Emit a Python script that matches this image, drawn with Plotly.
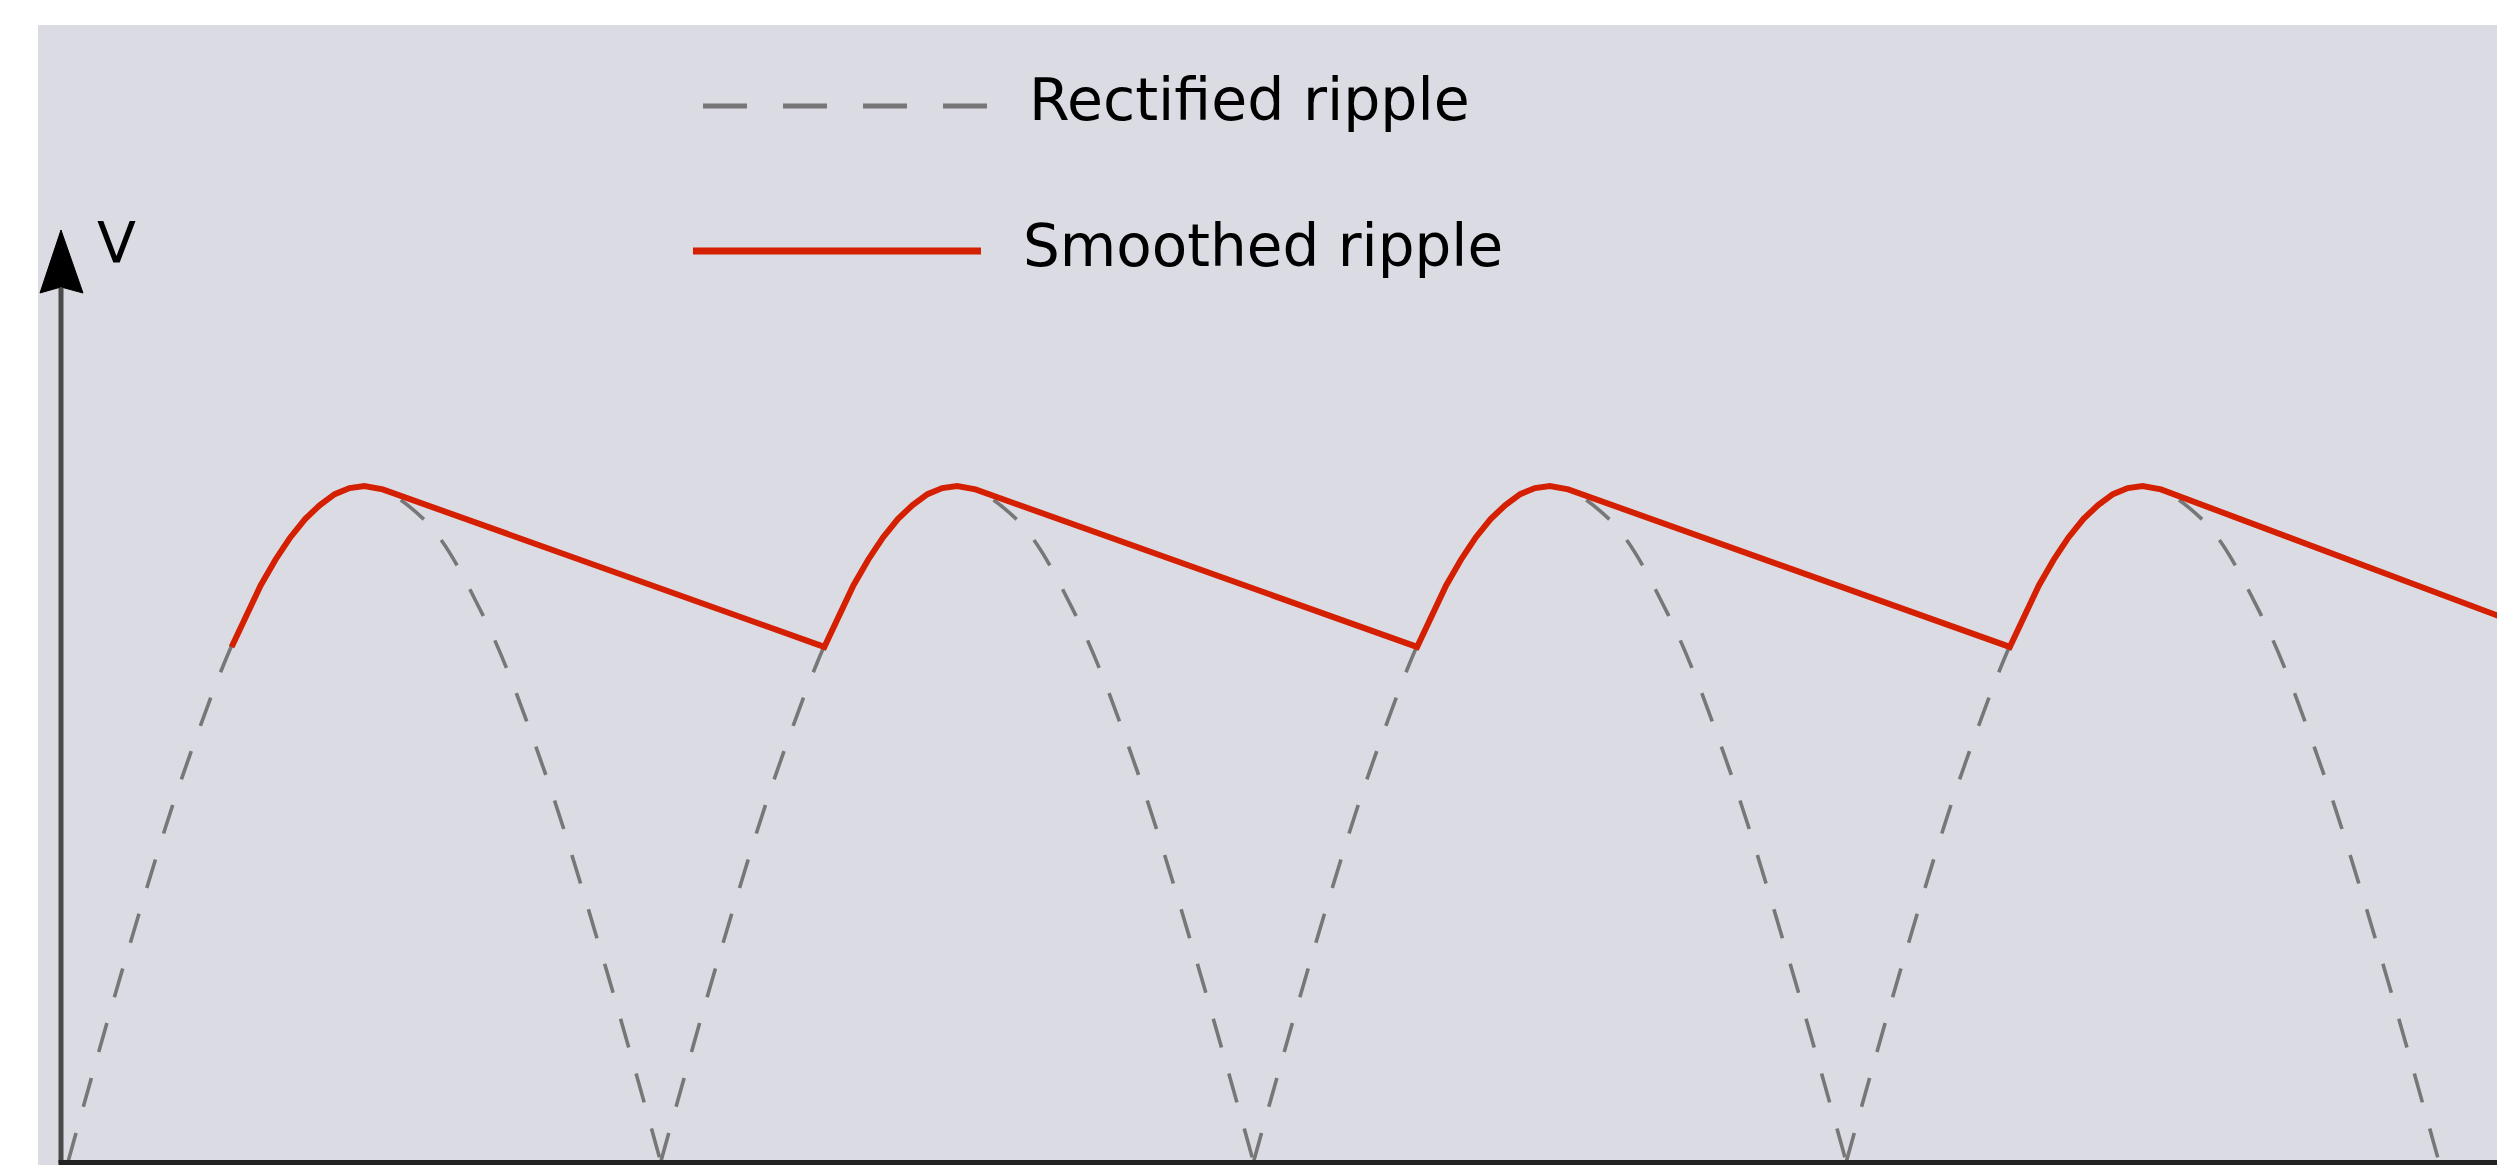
import plotly.graph_objects as go

# ---------------- data ----------------
# time in ms (full-wave rectified 50 Hz -> one hump every 10 ms), voltage normalised to peak = 1
rect_time_ms = [0, 1, 2, 3, 4, 5, 6, 7, 8, 9, 10, None,
                10, 11, 12, 13, 14, 15, 16, 17, 18, 19, 20, None,
                20, 21, 22, 23, 24, 25, 26, 27, 28, 29, 30, None,
                30, 31, 32, 33, 34, 35, 36, 37, 38, 39, 40]
rect_volt = [0.0, 0.309, 0.588, 0.809, 0.951, 1.0, 0.951, 0.809, 0.588, 0.309, 0.0, None,
             0.0, 0.309, 0.588, 0.809, 0.951, 1.0, 0.951, 0.809, 0.588, 0.309, 0.0, None,
             0.0, 0.309, 0.588, 0.809, 0.951, 1.0, 0.951, 0.809, 0.588, 0.309, 0.0, None,
             0.0, 0.309, 0.588, 0.809, 0.951, 1.0, 0.951, 0.809, 0.588, 0.309, 0.0]

smooth_time_ms = [2.76, 3.0, 3.25, 3.5, 3.75, 4.0, 4.25, 4.5, 4.75, 5.0, 5.25, 5.31,
                  12.76, 13.0, 13.25, 13.5, 13.75, 14.0, 14.25, 14.5, 14.75, 15.0, 15.25, 15.31,
                  22.76, 23.0, 23.25, 23.5, 23.75, 24.0, 24.25, 24.5, 24.75, 25.0, 25.25, 25.31,
                  32.76, 33.0, 33.25, 33.5, 33.75, 34.0, 34.25, 34.5, 34.75, 35.0, 35.25, 35.31,
                  41.0]
smooth_volt = [0.762, 0.809, 0.853, 0.891, 0.924, 0.951, 0.972, 0.988, 0.997, 1.0, 0.997, 0.995,
               0.762, 0.809, 0.853, 0.891, 0.924, 0.951, 0.972, 0.988, 0.997, 1.0, 0.997, 0.995,
               0.762, 0.809, 0.853, 0.891, 0.924, 0.951, 0.972, 0.988, 0.997, 1.0, 0.997, 0.995,
               0.762, 0.809, 0.853, 0.891, 0.924, 0.951, 0.972, 0.988, 0.997, 1.0, 0.997, 0.995,
               0.808]

legend_labels = ["Rectified ripple", "Smoothed ripple"]
axis_label = "V"

x_range = [-0.506, 40.979]
y_range = [-0.0044, 1.682]

# ---------------- layout helpers ----------------
W, H = 2497, 1165
PL, PT = 38, 25
BG = "#dbdbe3"
RED = "#d42000"
GRAY = "#777777"
FONT = "DejaVu Sans"


def px(x):
    return (x - PL) / (W - PL)


def py(y):
    return (H - y) / (H - PT)


fig = go.Figure()
fig.add_trace(go.Scatter(
    x=rect_time_ms, y=rect_volt, mode="lines", name=legend_labels[0],
    line=dict(color=GRAY, width=3.6, dash="30px,27px", shape="spline"),
    connectgaps=False, hoverinfo="skip"))
fig.add_trace(go.Scatter(
    x=smooth_time_ms, y=smooth_volt, mode="lines", name=legend_labels[1],
    line=dict(color=RED, width=6, shape="linear"), hoverinfo="skip"))

shapes = [
    # vertical axis
    dict(type="line", xref="paper", yref="paper", x0=px(61), x1=px(61), y0=py(1163), y1=py(288),
         line=dict(color="#4a4a4a", width=5)),
    # horizontal axis
    dict(type="line", xref="paper", yref="paper", x0=px(58.5), x1=px(W + 5), y0=py(1162.5), y1=py(1162.5),
         line=dict(color="#222222", width=5)),
    # arrow head
    dict(type="path", xref="paper", yref="paper",
         path="M {:.5f},{:.5f} L {:.5f},{:.5f} L {:.5f},{:.5f} L {:.5f},{:.5f} Z".format(
             px(61), py(230), px(83), py(293), px(61), py(287), px(40), py(293)),
         fillcolor="#000000", line=dict(color="#000000", width=1)),
    # legend symbols
    dict(type="line", xref="paper", yref="paper", x0=px(703), x1=px(987), y0=py(106), y1=py(106),
         line=dict(color=GRAY, width=5, dash="44px,36px")),
    dict(type="line", xref="paper", yref="paper", x0=px(693), x1=px(981), y0=py(251), y1=py(251),
         line=dict(color=RED, width=7)),
]

annotations = [
    dict(text=axis_label, xref="paper", yref="paper", x=px(95), y=py(243), xanchor="left", yanchor="middle",
         showarrow=False, font=dict(family=FONT, size=57, color="#000000")),
    dict(text=legend_labels[0], xref="paper", yref="paper", x=px(1027), y=py(100), xanchor="left",
         yanchor="middle", showarrow=False, font=dict(family=FONT, size=58.5, color="#000000")),
    dict(text=legend_labels[1], xref="paper", yref="paper", x=px(1021), y=py(246), xanchor="left",
         yanchor="middle", showarrow=False, font=dict(family=FONT, size=58, color="#000000")),
]

fig.update_layout(
    width=W, height=H,
    margin=dict(l=PL, t=PT, r=0, b=0, pad=0),
    paper_bgcolor="#ffffff", plot_bgcolor=BG,
    showlegend=False,
    shapes=shapes, annotations=annotations,
    xaxis=dict(range=x_range, showgrid=False, zeroline=False, showticklabels=False, showline=False,
               ticks="", fixedrange=True),
    yaxis=dict(range=y_range, showgrid=False, zeroline=False, showticklabels=False, showline=False,
               ticks="", fixedrange=True),
)

fig.write_html("out.html", config={"displayModeBar": False},
               post_script="document.body.style.margin='0';document.body.style.overflow='hidden';")
